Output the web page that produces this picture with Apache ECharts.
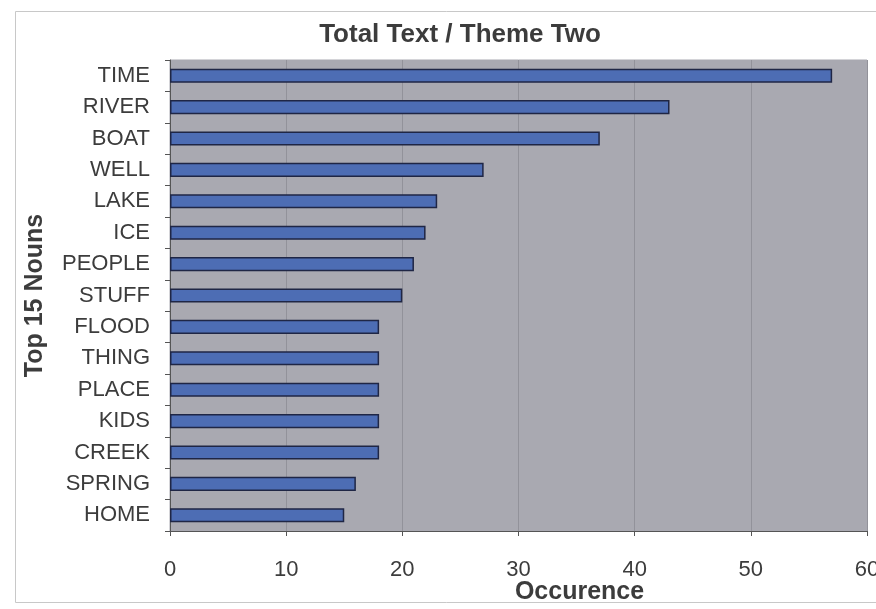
<!DOCTYPE html>
<html>
<head>
<meta charset="utf-8">
<script src="https://cdn.jsdelivr.net/npm/echarts@6/dist/echarts.min.js"></script>
<style>
  html, body { margin: 0; padding: 0; background: #fff; }
  #chart { width: 876px; height: 609px; }
</style>
</head>
<body>
<div id="chart"></div>
<script>
// Nouns from top to bottom, with their occurrence counts
const nouns = ['TIME', 'RIVER', 'BOAT', 'WELL', 'LAKE', 'ICE', 'PEOPLE', 'STUFF',
  'FLOOD', 'THING', 'PLACE', 'KIDS', 'CREEK', 'SPRING', 'HOME'];
const occurrences = [57, 43, 37, 27, 23, 22, 21, 20, 18, 18, 18, 18, 18, 16, 15];
const xTicks = [0, 10, 20, 30, 40, 50, 60];

const chart = echarts.init(document.getElementById('chart'));
const textColor = '#3c3c3c';
const font = 'Liberation Sans, Arial, sans-serif';

chart.setOption({
  animation: false,
  backgroundColor: '#fff',
  title: {
    text: 'Total Text / Theme Two',
    left: 455,
    top: 17,
    textAlign: 'center',
    textStyle: { fontFamily: font, fontSize: 26, fontWeight: 'bold', color: textColor }
  },
  graphic: [{
    type: 'rect',
    left: 13, top: 9,
    shape: { width: 900, height: 591 },
    style: { fill: 'none', stroke: '#c8c8c8', lineWidth: 1 },
    silent: true
  }],
  grid: {
    left: 170, right: 9, top: 60, bottom: 78,
    outerBoundsMode: 'none',
    containLabel: false,
    show: true,
    backgroundColor: '#a9a9b1',
    borderColor: '#a9a9b1'
  },
  xAxis: {
    type: 'value',
    min: xTicks[0],
    max: xTicks[xTicks.length - 1],
    interval: 10,
    name: 'Occurence',
    nameLocation: 'middle',
    nameGap: 49,
    nameMoveOverlap: false,
    nameTextStyle: { fontFamily: font, fontSize: 25, fontWeight: 'bold', color: textColor, padding: [0, 0, 0, 122] },
    axisLine: { show: true, lineStyle: { color: '#555', width: 1 } },
    axisTick: { show: true, length: 5, lineStyle: { color: '#555' } },
    axisLabel: { fontFamily: font, fontSize: 22, color: textColor, margin: 28 },
    splitLine: { show: true, lineStyle: { color: '#92929a', width: 1 } }
  },
  yAxis: {
    type: 'category',
    data: nouns,
    inverse: true,
    name: 'Top 15 Nouns',
    nameLocation: 'middle',
    nameGap: 122,
    nameMoveOverlap: false,
    nameTextStyle: { fontFamily: font, fontSize: 25, fontWeight: 'bold', color: textColor },
    axisLine: { show: true, lineStyle: { color: '#555', width: 1 } },
    axisTick: { show: true, length: 5, lineStyle: { color: '#555' } },
    axisLabel: { fontFamily: font, fontSize: 22, color: textColor, margin: 20 },
    splitLine: { show: false }
  },
  series: [{
    type: 'bar',
    data: occurrences,
    barWidth: '45%',
    itemStyle: { color: '#4d6db4', borderColor: '#1f2645', borderWidth: 1.5 }
  }]
});
</script>
</body>
</html>
